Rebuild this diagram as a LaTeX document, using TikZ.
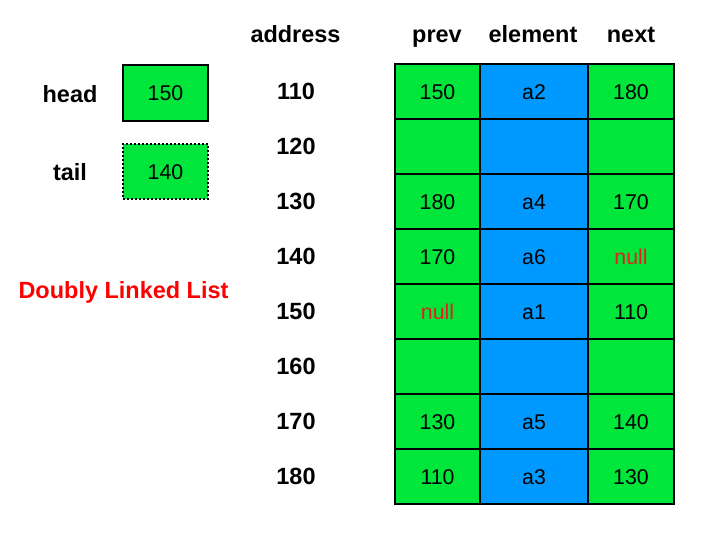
\documentclass[tikz,border=0pt]{standalone}
\usepackage{fontspec}
\setmainfont{Liberation Sans}
\usepackage{tikz}

\definecolor{cellgreen}{RGB}{0,230,58}
\definecolor{cellblue}{RGB}{0,153,255}
\definecolor{nullred}{RGB}{230,30,30}

\tikzset{
  txt/.style={inner sep=0.75pt, text height=11.5pt, text depth=0pt, font=\fontsize{16}{19}\selectfont},
  lbl/.style={txt, text height=12.6pt, font=\fontsize{17.6}{21}\selectfont\bfseries},
  cell/.style={txt, draw, line width=1pt, minimum height=41.25pt, inner sep=0pt},
  prevcell/.style={cell, fill=cellgreen, minimum width=63.75pt},
  elemcell/.style={cell, fill=cellblue, minimum width=81pt},
  nextcell/.style={cell, fill=cellgreen, minimum width=64.5pt},
  nulltxt/.style={text=nullred}
}

\begin{document}
\begin{tikzpicture}[x=0.75pt,y=0.75pt,yscale=-1,xscale=1]
    \useasboundingbox (0,0) rectangle (724,534);

    % Pointer boxes
    \node [lbl] (headlbl) at (70,94) {head};
    \node [cell, fill=cellgreen, line width=1.6pt, minimum width=63.75pt, minimum height=42pt] (headbox) at (165.5,93) {150};
    \node [lbl] (taillbl) at (70,172.5) {tail};
    \node [cell, fill=cellgreen, line width=1.5pt, dash pattern=on 1.5pt off 1.5pt, minimum width=63.75pt, minimum height=41.25pt] (tailbox) at (165.5,171.5) {140};

    % Title
    \node [lbl, text=red] (title) at (123.5,290) {Doubly Linked List};

    % Column headers
    \node [lbl] (haddr) at (295.5,34) {address};
    \node [lbl] (hprev) at (437,34) {prev};
    \node [lbl] (helem) at (533,34) {element};
    \node [lbl] (hnext) at (631,34) {next};

    % Row 110
    \node [lbl] (a110) at (296,91.5) {110};
    \node [prevcell] (p110) at (437.5,91.5) {150};
    \node [elemcell] (e110) at (534,91.5) {a2};
    \node [nextcell] (n110) at (631,91.5) {180};
    % Row 120
    \node [lbl] (a120) at (296,146.5) {120};
    \node [prevcell] (p120) at (437.5,146.5) {};
    \node [elemcell] (e120) at (534,146.5) {};
    \node [nextcell] (n120) at (631,146.5) {};
    % Row 130
    \node [lbl] (a130) at (296,201.5) {130};
    \node [prevcell] (p130) at (437.5,201.5) {180};
    \node [elemcell] (e130) at (534,201.5) {a4};
    \node [nextcell] (n130) at (631,201.5) {170};
    % Row 140
    \node [lbl] (a140) at (296,256.5) {140};
    \node [prevcell] (p140) at (437.5,256.5) {170};
    \node [elemcell] (e140) at (534,256.5) {a6};
    \node [nextcell, nulltxt] (n140) at (631,256.5) {null};
    % Row 150
    \node [lbl] (a150) at (296,311.5) {150};
    \node [prevcell, nulltxt] (p150) at (437.5,311.5) {null};
    \node [elemcell] (e150) at (534,311.5) {a1};
    \node [nextcell] (n150) at (631,311.5) {110};
    % Row 160
    \node [lbl] (a160) at (296,366.5) {160};
    \node [prevcell] (p160) at (437.5,366.5) {};
    \node [elemcell] (e160) at (534,366.5) {};
    \node [nextcell] (n160) at (631,366.5) {};
    % Row 170
    \node [lbl] (a170) at (296,421.5) {170};
    \node [prevcell] (p170) at (437.5,421.5) {130};
    \node [elemcell] (e170) at (534,421.5) {a5};
    \node [nextcell] (n170) at (631,421.5) {140};
    % Row 180
    \node [lbl] (a180) at (296,476.5) {180};
    \node [prevcell] (p180) at (437.5,476.5) {110};
    \node [elemcell] (e180) at (534,476.5) {a3};
    \node [nextcell] (n180) at (631,476.5) {130};

\end{tikzpicture}
\end{document}
